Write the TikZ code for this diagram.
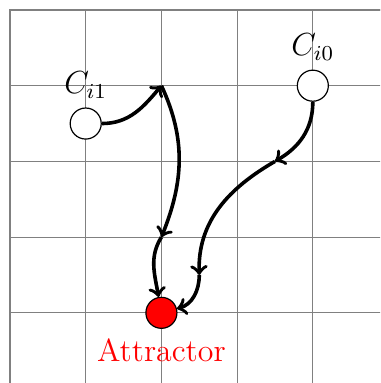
\documentclass[tikz,border=0pt]{standalone}
\begin{document}
\begin{tikzpicture}[
  gridline/.style={gray, line width=0.45pt},
  state/.style={circle, draw=black, line width=0.45pt, minimum size=0.41cm, inner sep=0pt},
  flow/.style={->, line width=1.35pt},
  every label/.style={font=\fontsize{12}{14}\selectfont},
]
\useasboundingbox (-0.132,0.073) rectangle (4.888,5.132);
\begin{scope}
\clip (-0.132,0.073) rectangle (4.888,5.132);
\draw[gridline] (0,0) grid (5,5);
\draw[gridline, line width=0.8pt] (0,0) -- (0,5) -- (5,5);
\end{scope}
\node[state, fill=white, label=above:{$C_{i1}$}] (C1) at (1,3.5) {};
\node[state, fill=white, label=above:{$C_{i0}$}] (C0) at (4,4) {};
\node[state, fill=red, label={[text=red]below:Attractor}] (A) at (2,1) {};
\coordinate (P) at (2,4);
\coordinate (Q) at (2,2);
\coordinate (R) at (3.5,3);
\coordinate (S) at (2.5,1.5);
\draw[flow] (C1) to[out=0, in=-130] (P);
\draw[flow] (P) to[out=-65, in=68] (Q);
\draw[flow] (Q) to[out=-122, in=100] (A);
\draw[flow] (C0) to[out=-90, in=30] (R);
\draw[flow] (R) to[out=-150, in=92] (S);
\draw[flow] (S) to[out=-90, in=15] (A);
\end{tikzpicture}
\end{document}
